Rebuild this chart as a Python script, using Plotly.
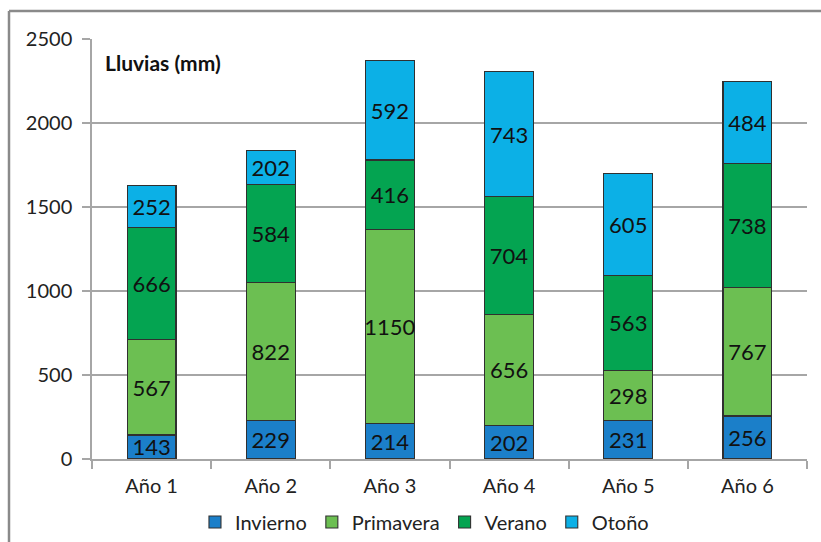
import plotly.graph_objects as go

years = ["Año 1", "Año 2", "Año 3", "Año 4", "Año 5", "Año 6"]
invierno = [143, 229, 214, 202, 231, 256]
primavera = [567, 822, 1150, 656, 298, 767]
verano = [666, 584, 416, 704, 563, 738]
otono = [252, 202, 592, 743, 605, 484]

series = [
    ("Invierno", invierno, "#1b7fc9"),
    ("Primavera", primavera, "#6cbf52"),
    ("Verano", verano, "#04a451"),
    ("Otoño", otono, "#0cb0e6"),
]

FONT = "Lato"

fig = go.Figure()
for name, vals, color in series:
    fig.add_trace(go.Bar(
        x=years, y=vals, name=name,
        marker=dict(color=color, line=dict(color="#303030", width=1.1)),
        text=[str(v) for v in vals], textposition="inside",
        insidetextanchor="middle", textangle=0, constraintext="none",
        textfont=dict(family=FONT, size=22, color="#111111"),
        width=0.41,
    ))

fig.update_layout(
    barmode="stack",
    width=821, height=542,
    margin=dict(l=92, r=14, t=39, b=83, autoexpand=False),
    paper_bgcolor="white", plot_bgcolor="white",
    font=dict(family=FONT, size=18, color="#222222"),
    showlegend=True,
    legend=dict(orientation="h", x=0.465, xanchor="center",
                yref="container", y=1 - 522 / 542, yanchor="middle",
                font=dict(family=FONT, size=20, color="#222222"),
                itemwidth=30, traceorder="normal", tracegroupgap=0),
    annotations=[dict(text="<b>Lluvias (mm)</b>", xref="paper", yref="paper",
                      x=0.016, y=0.945, xanchor="left", yanchor="middle",
                      showarrow=False, font=dict(family=FONT, size=21, color="#111111"))],
    shapes=[
        # outer frame (extends past the right and bottom edges)
        dict(type="line", xref="paper", yref="paper",
             x0=(9 - 92) / 715, x1=(830 - 92) / 715,
             y0=1 + (39 - 11) / 420, y1=1 + (39 - 11) / 420,
             line=dict(color="#8a8a8a", width=2.5)),
        dict(type="line", xref="paper", yref="paper",
             x0=(9 - 92) / 715, x1=(9 - 92) / 715,
             y0=1 + (39 - 11) / 420, y1=-(560 - 459) / 420,
             line=dict(color="#8a8a8a", width=2.5)),
    ],
)

fig.update_yaxes(range=[0, 2500], dtick=500, showgrid=True, gridcolor="#a6a6a6", gridwidth=1.5,
                 showline=True, linecolor="#a6a6a6", linewidth=1.5,
                 ticks="outside", ticklen=8, tickcolor="#a6a6a6", tickwidth=1.5,
                 tickfont=dict(family=FONT, size=20, color="#222222"), zeroline=False,
                 ticklabelstandoff=6, automargin=False)
fig.update_xaxes(showline=True, linecolor="#a6a6a6", linewidth=1.5,
                 ticks="outside", tickson="boundaries", ticklen=8, tickcolor="#a6a6a6", tickwidth=1.5,
                 tickfont=dict(family=FONT, size=20, color="#222222"),
                 ticklabelstandoff=8, automargin=False)

fig.write_html("out.html")
